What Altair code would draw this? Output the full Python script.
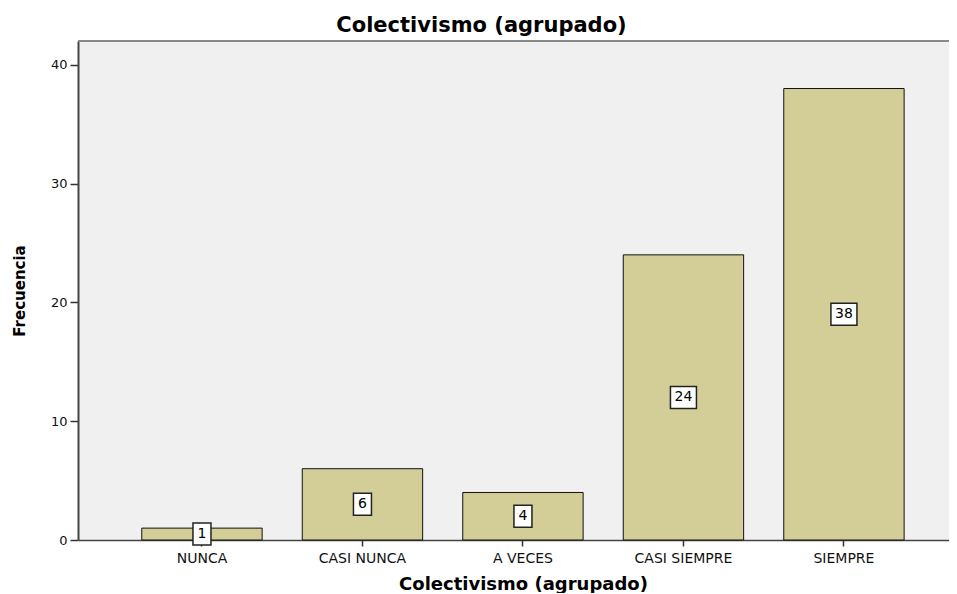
import altair as alt
import pandas as pd

categories = ["NUNCA", "CASI NUNCA", "A VECES", "CASI SIEMPRE", "SIEMPRE"]
counts = [1, 6, 4, 24, 38]
y_ticks = [0, 10, 20, 30, 40]

df = pd.DataFrame({"cat": categories, "count": counts})
df["mid"] = df["count"] / 2
df["label"] = df["count"].astype(str)
df["digits"] = df["label"].str.len()

FONT = "DejaVu Sans"
W, H = 871, 499

x = alt.X(
    "cat:N", sort=categories, title="Colectivismo (agrupado)",
    scale=alt.Scale(paddingInner=0.25, paddingOuter=0.3385, align=0.587),
    axis=alt.Axis(labelAngle=0, labelFont=FONT, labelFontSize=14, labelColor="#111",
                  tickColor="#333", tickSize=6, tickWidth=1.5,
                  domainColor="#444", domainWidth=1.5, labelPadding=5,
                  titleFont=FONT, titleFontSize=18, titleFontWeight="bold",
                  titleColor="#000", titleX=445, titleY=44,
                  titleBaseline="middle", titleAlign="center"),
)
y_axis = alt.Axis(values=y_ticks, grid=False, labelFont=FONT, labelFontSize=13,
                  labelColor="#111", tickSize=8, labelPadding=3,
                  domainColor="#444", domainWidth=2, tickColor="#333", tickWidth=1.5,
                  titleFont=FONT, titleFontSize=15, titleFontWeight="bold",
                  titleColor="#000", titleX=-59, titleY=H / 2, titleAngle=270,
                  titleAlign="center", titleBaseline="middle")
y_scale = alt.Scale(domain=[0, 42], nice=False)

base = alt.Chart(df)

bars = base.mark_bar(color="#d3ce97", stroke="#111", strokeWidth=1).encode(
    x=x, y=alt.Y("count:Q", title="Frecuencia", scale=y_scale, axis=y_axis)
)

box1 = base.transform_filter("datum.digits == 1").mark_rect(
    width=18, height=22, fill="white", stroke="#222", strokeWidth=1.5
).encode(x=alt.X("cat:N", sort=categories), y=alt.Y("mid:Q", scale=y_scale))

box2 = base.transform_filter("datum.digits == 2").mark_rect(
    width=26, height=22, fill="white", stroke="#222", strokeWidth=1.5
).encode(x=alt.X("cat:N", sort=categories), y=alt.Y("mid:Q", scale=y_scale))

texts = base.mark_text(font=FONT, fontSize=14, color="#000").encode(
    x=alt.X("cat:N", sort=categories), y=alt.Y("mid:Q", scale=y_scale), text="label:N"
)

top_border = alt.Chart(pd.DataFrame({"a": [0]})).mark_rule(
    color="#888", strokeWidth=2
).encode(x=alt.value(0), x2=alt.value(W), y=alt.value(0))

chart = alt.layer(bars, box1, box2, texts, top_border).properties(
    width=W, height=H,
    title=alt.TitleParams("Colectivismo (agrupado)", font=FONT, fontSize=21,
                          fontWeight="bold", anchor="middle", dx=-32, offset=4,
                          color="#000"),
    autosize=alt.AutoSizeParams(type="none"),
    padding={"left": 70, "top": 33, "right": 0, "bottom": 53},
).configure_view(fill="#f0f0f0", strokeWidth=0)

chart.save("out.html", embed_options={"renderer": "svg", "actions": False})
